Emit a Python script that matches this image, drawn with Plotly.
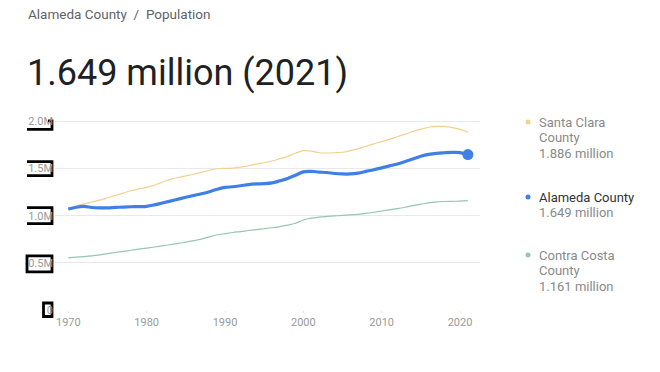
import plotly.graph_objects as go

# ---------------- data (millions) ----------------
years = list(range(1970, 2022))

santa_clara = [1.070, 1.100, 1.125, 1.145, 1.165, 1.190, 1.215, 1.240, 1.265, 1.285,
               1.300, 1.325, 1.355, 1.385, 1.405, 1.423, 1.440, 1.460, 1.482, 1.498,
               1.502, 1.505, 1.515, 1.530, 1.548, 1.562, 1.580, 1.605, 1.630, 1.662,
               1.690, 1.685, 1.668, 1.665, 1.668, 1.673, 1.690, 1.712, 1.737, 1.762,
               1.785, 1.810, 1.838, 1.865, 1.893, 1.918, 1.938, 1.947, 1.947, 1.935,
               1.915, 1.886]

alameda = [1.071, 1.090, 1.098, 1.087, 1.083, 1.083, 1.088, 1.092, 1.095, 1.097,
           1.100, 1.115, 1.135, 1.155, 1.175, 1.196, 1.215, 1.233, 1.255, 1.280,
           1.300, 1.307, 1.318, 1.330, 1.337, 1.340, 1.348, 1.370, 1.395, 1.430,
           1.465, 1.470, 1.463, 1.458, 1.448, 1.443, 1.443, 1.452, 1.470, 1.488,
           1.508, 1.528, 1.548, 1.574, 1.602, 1.630, 1.650, 1.662, 1.668, 1.672,
           1.670, 1.649]

contra_costa = [0.552, 0.560, 0.567, 0.575, 0.585, 0.597, 0.610, 0.622, 0.634, 0.646,
                0.657, 0.668, 0.680, 0.692, 0.706, 0.720, 0.735, 0.752, 0.775, 0.798,
                0.810, 0.822, 0.832, 0.843, 0.853, 0.862, 0.872, 0.885, 0.900, 0.920,
                0.955, 0.975, 0.985, 0.992, 0.998, 1.004, 1.008, 1.015, 1.025, 1.037,
                1.050, 1.062, 1.075, 1.090, 1.107, 1.122, 1.137, 1.147, 1.151, 1.153,
                1.155, 1.161]

series_name_lines = [["Santa Clara", "County"], ["Alameda County"], ["Contra Costa", "County"]]
latest_labels = ["1.886 million", "1.649 million", "1.161 million"]

y_tick_vals = [0, 0.5, 1.0, 1.5, 2.0]
y_tick_text = ["0", "0.5M", "1.0M", "1.5M", "2.0M"]
x_tick_vals = [1970, 1980, 1990, 2000, 2010, 2020]
x_tick_text = ["1970", "1980", "1990", "2000", "2010", "2020"]

# ---------------- styles ----------------
C_SC = "#f3d08f"
C_AL = "#3f7fe6"
C_CC = "#96c6b1"
FONT = "Roboto"

W, H = 660, 372
ML, MR, MT, MB = 55, 180, 112, 62
PW, PH = W - ML - MR, H - MT - MB
Y_MAX = 2.1


def px_x(p):
    return (p - ML) / PW


def px_y(p):
    return (H - MB - p) / PH


fig = go.Figure()
fig.add_trace(go.Scatter(x=years, y=santa_clara, mode="lines",
                         line=dict(color=C_SC, width=1.2, shape="spline"),
                         hoverinfo="skip"))
fig.add_trace(go.Scatter(x=years, y=contra_costa, mode="lines",
                         line=dict(color=C_CC, width=1.2, shape="spline"),
                         hoverinfo="skip"))
fig.add_trace(go.Scatter(x=years, y=alameda, mode="lines",
                         line=dict(color=C_AL, width=3.2, shape="spline"),
                         hoverinfo="skip"))
fig.add_trace(go.Scatter(x=[years[-1]], y=[alameda[-1]], mode="markers",
                         marker=dict(color=C_AL, size=11), hoverinfo="skip"))

fig.update_layout(
    width=W, height=H,
    margin=dict(l=ML, r=MR, t=MT, b=MB, pad=0, autoexpand=False),
    paper_bgcolor="white", plot_bgcolor="white",
    showlegend=False,
    font=dict(family=FONT, color="#9a9a9a", size=11),
    xaxis=dict(range=[1968.3, 2022.55], tickvals=x_tick_vals, ticktext=x_tick_text,
               showgrid=False, zeroline=False, showline=False,
               ticks="outside", ticklen=2, tickcolor="#e6e6e6",
               tickfont=dict(size=11, color="#9a9a9a", family=FONT)),
    yaxis=dict(range=[0, Y_MAX], tickvals=y_tick_vals, ticktext=y_tick_text,
               showgrid=True, gridcolor="#e9e9e9", gridwidth=1,
               zeroline=False, showline=False, ticks="", ticklabelstandoff=1,
               tickfont=dict(size=11, color="#9a9a9a", family=FONT)),
)

# black bracket outlines around y tick labels (offsets in px: left, right, top, bottom;
# top/bottom measured downward from the tick line)
box_specs = {
    2.0: (-7, -3, -0.5, 8, False),
    1.5: (-28, -3, -7, 7, False),
    1.0: (-28, -3, -8, 8, False),
    0.5: (-28, -3, -7, 9, True),
    0: (-11.5, -3, -7, 6.5, True),
}
BW = 2.8
for v in y_tick_vals:
    lft, rgt, top, bot, closed = box_specs[v]
    top_u, bot_u = -top, -bot  # convert to upward pixel offsets
    if v == 2.0:
        path = (f"M {lft},{top_u} L {rgt},{top_u} L {rgt},{bot_u} L -28,{bot_u}")
    elif closed:
        path = (f"M {lft},{top_u} L {rgt},{top_u} L {rgt},{bot_u} L {lft},{bot_u} Z")
    else:
        path = (f"M {lft},{top_u} L {rgt},{top_u} L {rgt},{bot_u} L {lft},{bot_u}")
    fig.add_shape(type="path", path=path, xref="paper", yref="paper",
                  xsizemode="pixel", ysizemode="pixel", xanchor=0, yanchor=v / Y_MAX,
                  line=dict(color="black", width=BW), layer="below")

# titles
fig.add_annotation(xref="paper", yref="paper", x=px_x(26), y=px_y(14),
                   xanchor="left", yanchor="middle", showarrow=False,
                   text="Alameda County  /  Population",
                   font=dict(family=FONT, size=13.5, color="#5f6368"))
fig.add_annotation(xref="paper", yref="paper", x=px_x(25), y=px_y(73),
                   xanchor="left", yanchor="middle", showarrow=False,
                   text="1.649 million (2021)",
                   font=dict(family=FONT, size=36, color="#202124"))

# custom legend
legend_first = [122, 197, 255]
legend_colors = [C_SC, C_AL, C_CC]
name_colors = ["#8a8a8a", "#333333", "#8a8a8a"]
LINE_H = 15.8
for names, val, y0, col, ncol in zip(series_name_lines, latest_labels, legend_first,
                                     legend_colors, name_colors):
    lines = [(t, ncol) for t in names] + [(val, "#8a8a8a")]
    for i, (t, c) in enumerate(lines):
        fig.add_annotation(xref="paper", yref="paper", x=px_x(537),
                           y=px_y(y0 + i * LINE_H),
                           xanchor="left", yanchor="middle", showarrow=False,
                           text=t, font=dict(family=FONT, size=13, color=c))
    fig.add_shape(type="circle", xref="paper", yref="paper", xsizemode="pixel",
                  ysizemode="pixel", xanchor=px_x(528), yanchor=px_y(y0),
                  x0=-2.5, x1=2.5, y0=-2.5, y1=2.5,
                  line=dict(width=0), fillcolor=col)

fig.write_html("out.html", config={"displayModeBar": False},
               post_script="document.body.style.margin='0';document.body.style.padding='0';")
